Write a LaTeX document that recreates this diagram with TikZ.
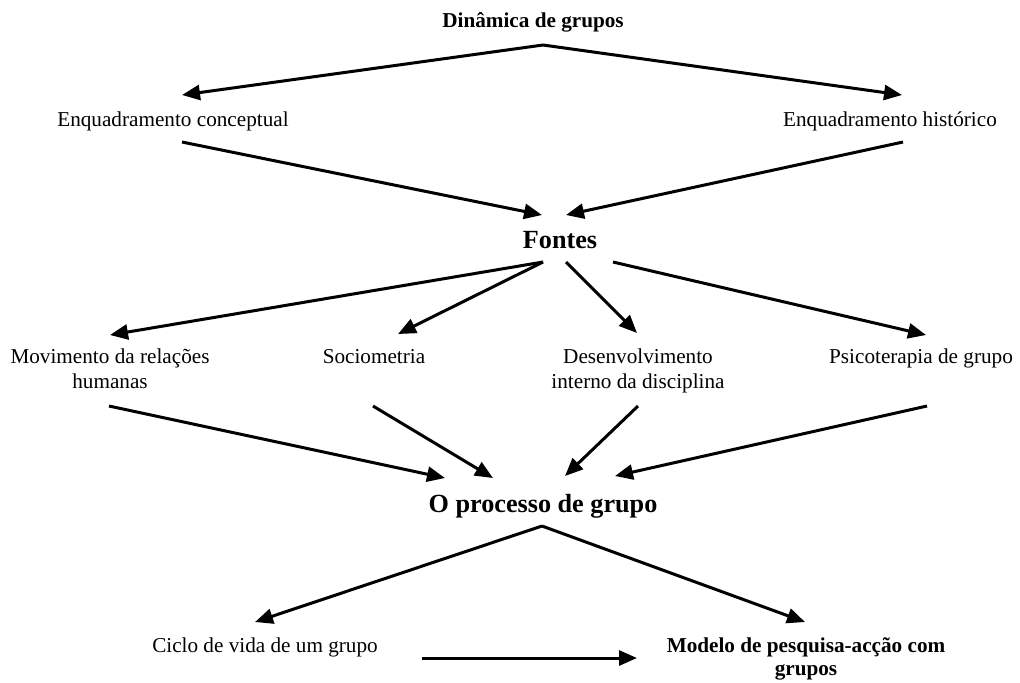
\documentclass[tikz,border=0pt]{standalone}
\usepackage{fontspec}
\setmainfont{Liberation Serif}
\usetikzlibrary{arrows.meta}

\begin{document}
\begin{tikzpicture}[
    x=0.5pt, y=-0.5pt,
    lbl/.style={anchor=base, align=center, inner sep=0pt, font=\fontsize{10.6}{12.5}\selectfont},
    blbl/.style={lbl, font=\fontsize{10.6}{11.5}\selectfont\bfseries},
    big/.style={lbl, font=\fontsize{13.1}{15}\selectfont\bfseries},
    arr/.style={-{Triangle[length=9pt,width=7.5pt]}, line width=1.5pt}
  ]
    \useasboundingbox (0,0) rectangle (1020,682);

    \node[blbl] (dinamica) at (533,27) {Dinâmica de grupos};

    \node[lbl] (conceptual) at (173,126) {Enquadramento conceptual};
    \node[lbl] (historico) at (890,126) {Enquadramento histórico};

    \node[big] (fontes) at (560,248) {Fontes};

    % two-line nodes sit on their last line
    \node[lbl] (movimento) at (110,388) {Movimento da relações\\humanas};
    \node[lbl] (sociometria) at (374,363) {Sociometria};
    \node[lbl] (desenvolvimento) at (638,388) {Desenvolvimento\\interno da disciplina};
    \node[lbl] (psicoterapia) at (921,363) {Psicoterapia de grupo};

    \node[big] (processo) at (543,512) {O processo de grupo};

    \node[lbl] (ciclo) at (265,652) {Ciclo de vida de um grupo};
    \node[blbl] (modelo) at (806,675) {Modelo de pesquisa-acção com\\grupos};

    % arrow ends
    \coordinate (dinamica-out) at (543,45);
    \coordinate (conceptual-in) at (182,95);
    \coordinate (historico-in) at (902,95);
    \coordinate (conceptual-out) at (182,142);
    \coordinate (historico-out) at (903,142);
    \coordinate (fontes-in-l) at (542,215);
    \coordinate (fontes-in-r) at (566,215);
    \coordinate (fontes-out-a) at (543,262);
    \coordinate (fontes-out-b) at (566,262);
    \coordinate (fontes-out-c) at (613,262);
    \coordinate (movimento-in) at (110,335);
    \coordinate (sociometria-in) at (398,334);
    \coordinate (desenvolvimento-in) at (637,333);
    \coordinate (psicoterapia-in) at (926,335);
    \coordinate (movimento-out) at (109,406);
    \coordinate (sociometria-out) at (373,406);
    \coordinate (desenvolvimento-out) at (638,406);
    \coordinate (psicoterapia-out) at (927,406);
    \coordinate (processo-in-a) at (445,478);
    \coordinate (processo-in-b) at (493,478);
    \coordinate (processo-in-c) at (565,476);
    \coordinate (processo-in-d) at (615,476);
    \coordinate (processo-out) at (542,526);
    \coordinate (ciclo-in) at (255,622);
    \coordinate (modelo-in) at (805,622);
    \coordinate (ciclo-out) at (422,658);
    \coordinate (modelo-in-l) at (637,658);

    \draw[arr] (dinamica-out) -- (conceptual-in);
    \draw[arr] (dinamica-out) -- (historico-in);
    \draw[arr] (conceptual-out) -- (fontes-in-l);
    \draw[arr] (historico-out) -- (fontes-in-r);
    \draw[arr] (fontes-out-a) -- (movimento-in);
    \draw[arr] (fontes-out-a) -- (sociometria-in);
    \draw[arr] (fontes-out-b) -- (desenvolvimento-in);
    \draw[arr] (fontes-out-c) -- (psicoterapia-in);
    \draw[arr] (movimento-out) -- (processo-in-a);
    \draw[arr] (sociometria-out) -- (processo-in-b);
    \draw[arr] (desenvolvimento-out) -- (processo-in-c);
    \draw[arr] (psicoterapia-out) -- (processo-in-d);
    \draw[arr] (processo-out) -- (ciclo-in);
    \draw[arr] (processo-out) -- (modelo-in);
    \draw[arr] (ciclo-out) -- (modelo-in-l);
  \end{tikzpicture}
\end{document}
